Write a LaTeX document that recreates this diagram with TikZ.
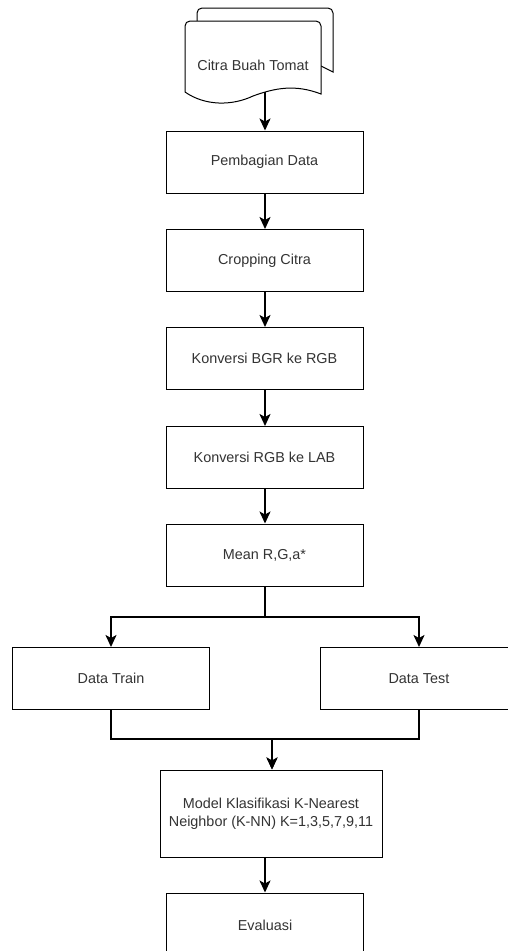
\documentclass[tikz,border=0pt]{standalone}
\usepackage{fontspec}
\setmainfont{Liberation Sans}
\usetikzlibrary{arrows.meta}
\definecolor{txt}{HTML}{333333}
\begin{document}
\begin{tikzpicture}[x=1pt,y=-1pt,
  every node/.style={font=\fontsize{14.4}{18}\selectfont, text=txt},
  procbox/.style={draw=black, line width=1pt, fill=white, inner sep=0pt,
    minimum width=197pt, minimum height=62pt, align=center},
  docline/.style={draw=black, line width=1pt, fill=white},
  conn/.style={draw=black, line width=1.8pt,
    -{Stealth[length=12pt,width=11pt,inset=3pt]}}
]
\useasboundingbox (0,0) rectangle (507,951);

% multi-document shape
\path[docline] (197,22) {[rounded corners=5pt] -- (197,8) -- (333,8)} -- (333,72) -- (321,66);
\path[docline] (185,92) {[rounded corners=5pt] -- (185,21) -- (321,21)} -- (321,94)
  .. controls (295,84) and (275,88) .. (253,96)
  .. controls (232,106) and (205,106) .. (185,92) -- cycle;
\node (doc) at (253,65) {Citra Buah Tomat};
\coordinate (docb) at (265,92);

\node[procbox] (pd)   at (264.5,162)   {Pembagian Data};
\node[procbox] (cc)   at (264.5,260.5) {Cropping Citra};
\node[procbox] (bgr)  at (264.5,358.5) {Konversi BGR ke RGB};
\node[procbox] (lab)  at (264.5,457.5) {Konversi RGB ke LAB};
\node[procbox] (mean) at (264.5,555)   {Mean R,G,a*};
\node[procbox] (train) at (111,678.5)  {Data Train};
\node[procbox] (test)  at (419,678.5)  {Data Test};
\node[procbox, minimum width=222pt, minimum height=87pt] (knn) at (271,813.5)
  {Model Klasifikasi K-Nearest\\Neighbor (K-NN) K=1,3,5,7,9,11};
\node[procbox, minimum height=64pt] (eval) at (265,925) {Evaluasi};

\coordinate (split) at (265,617);
\coordinate (merge) at (272,739);

\draw[conn] (docb) -- (docb |- pd.north);
\draw[conn] (pd.south -| docb) -- (cc.north -| docb);
\draw[conn] (cc.south -| docb) -- (bgr.north -| docb);
\draw[conn] (bgr.south -| docb) -- (lab.north -| docb);
\draw[conn] (lab.south -| docb) -- (mean.north -| docb);
\draw[conn] (mean.south -| split) -- (split) -| (train.north);
\draw[conn] (mean.south -| split) -- (split) -| (test.north);
\draw[conn] (train.south) |- (merge) -- (knn.north -| merge);
\draw[conn] (test.south) |- (merge) -- (knn.north -| merge);
\draw[conn] (knn.south -| docb) -- (eval.north -| docb);
\end{tikzpicture}
\end{document}
